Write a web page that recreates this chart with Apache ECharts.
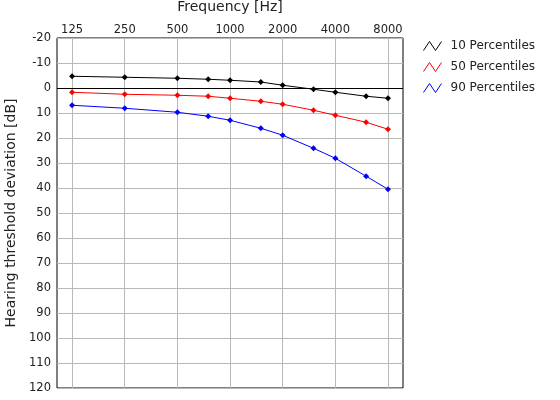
<!DOCTYPE html>
<html>
<head>
<meta charset="utf-8">
<script src="https://cdn.jsdelivr.net/npm/echarts@6/dist/echarts.min.js"></script>
<style>
  html, body { margin: 0; padding: 0; background: #fff; }
  #chart { width: 560px; height: 400px; }
</style>
</head>
<body>
<div id="chart"></div>
<script>
// frequencies of the measured points (Hz)
const freqs = [125, 250, 500, 750, 1000, 1500, 2000, 3000, 4000, 6000, 8000];
// labelled frequencies on the top axis
const tickFreqs = [125, 250, 500, 1000, 2000, 4000, 8000];

// threshold deviation in dB per percentile
const p10 = [-4.7, -4.3, -3.9, -3.5, -3.1, -2.4, -1.1, 0.5, 1.7, 3.3, 4.1];
const p50 = [1.7, 2.5, 2.9, 3.3, 4.1, 5.3, 6.5, 8.9, 10.9, 13.7, 16.5];
const p90 = [6.9, 8.1, 9.7, 11.3, 12.9, 16.1, 18.9, 24.1, 28.1, 35.3, 40.5];

// octaves above 125 Hz, so the axis is logarithmic
function oct(f) { return Math.log2(f / 125); }
const tickPos = tickFreqs.map(oct);

function pairs(vals) {
  return freqs.map((f, i) => [oct(f), vals[i]]);
}

// zigzag legend icon
const zigzag = "path://M0,9 L6,0 L12,9 L18,0";

function line(name, color, vals, extra) {
  let s = {
    name: name,
    type: "line",
    data: pairs(vals),
    symbol: "diamond",
    symbolSize: 6,
    itemStyle: { color: color },
    lineStyle: { color: color, width: 1 },
    animation: false,
  };
  return Object.assign(s, extra || {});
}

let chart = echarts.init(document.getElementById("chart"));
chart.setOption({
  backgroundColor: "#fff",
  textStyle: { fontFamily: "DejaVu Sans" },
  grid: {
    left: 57, top: 38, width: 346, height: 350,
    outerBoundsMode: "none",
    containLabel: false,
    show: true, borderColor: "#000", borderWidth: 1,
  },
  legend: {
    orient: "vertical",
    left: 418, top: 35,
    itemWidth: 18, itemHeight: 9, itemGap: 9,
    icon: zigzag,
    textStyle: { fontSize: 12, color: "#222", padding: [0, 0, 0, 4] },
    data: [
      { name: "10 Percentiles", itemStyle: { color: "transparent", borderColor: "#000", borderWidth: 1 } },
      { name: "50 Percentiles", itemStyle: { color: "transparent", borderColor: "#f00", borderWidth: 1 } },
      { name: "90 Percentiles", itemStyle: { color: "transparent", borderColor: "#00f", borderWidth: 1 } },
    ],
  },
  xAxis: {
    type: "value",
    position: "top",
    min: oct(102.5),
    max: oct(9746),
    name: "Frequency [Hz]",
    nameLocation: "middle",
    nameGap: 24,
    nameTextStyle: { fontSize: 14, color: "#222" },
    axisLine: { show: false },
    axisTick: { show: false, customValues: tickPos },
    axisLabel: {
      customValues: tickPos,
      fontSize: 11.5, color: "#222", margin: 2,
      formatter: (v) => String(Math.round(125 * Math.pow(2, v))),
    },
    splitLine: { show: true, customValues: tickPos, lineStyle: { color: "#b8b8b8", width: 1 } },
  },
  yAxis: {
    type: "value",
    inverse: true,
    min: -20, max: 120, interval: 10,
    name: "Hearing threshold deviation [dB]",
    nameLocation: "middle",
    nameGap: 33,
    nameTextStyle: { fontSize: 14, color: "#222" },
    axisLine: { show: false },
    axisTick: { show: false },
    axisLabel: { fontSize: 11.5, color: "#222", margin: 6 },
    splitLine: { show: true, lineStyle: { color: "#b8b8b8", width: 1 } },
  },
  series: [
    line("10 Percentiles", "#000", p10, {
      markLine: {
        silent: true, symbol: "none", label: { show: false },
        lineStyle: { color: "#000", type: "solid", width: 1.2 },
        data: [{ yAxis: 0 }],
        animation: false,
      },
    }),
    line("50 Percentiles", "#f00", p50),
    line("90 Percentiles", "#00f", p90),
  ],
});
</script>
</body>
</html>
